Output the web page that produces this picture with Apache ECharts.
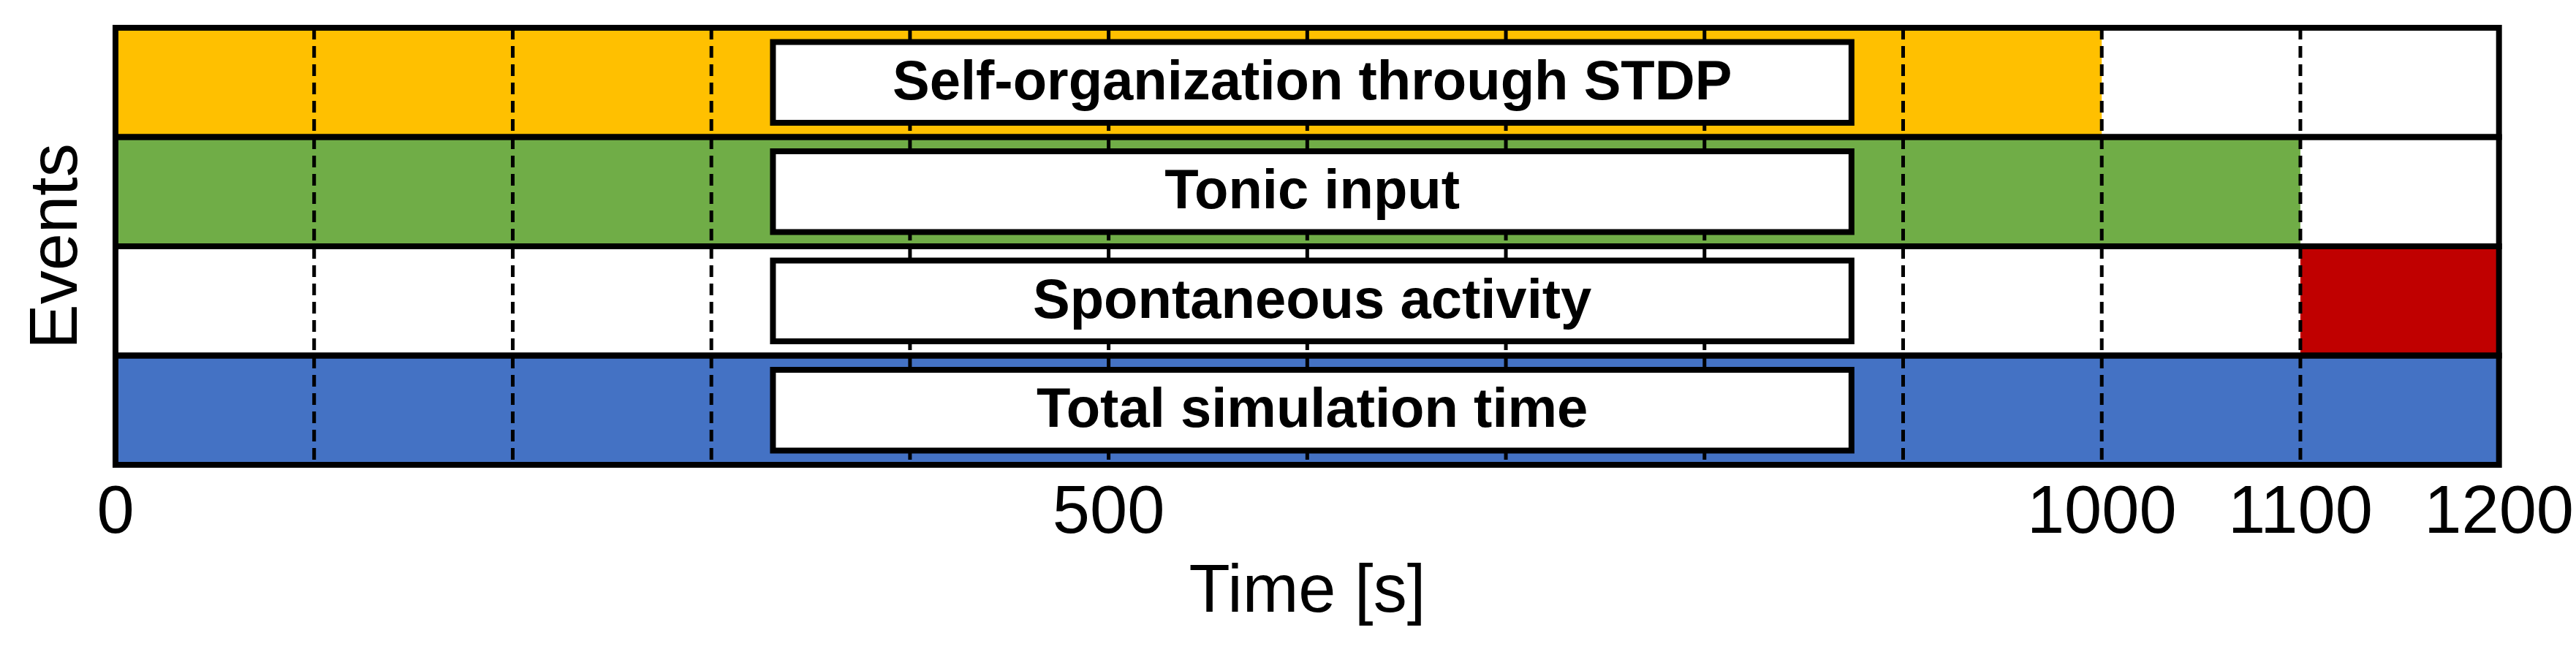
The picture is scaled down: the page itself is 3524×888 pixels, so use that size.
<!DOCTYPE html>
<html>
<head>
<meta charset="utf-8">
<script src="https://cdn.jsdelivr.net/npm/echarts@6/dist/echarts.min.js"></script>
<style>html,body{margin:0;padding:0;background:#fff}#main{width:3524px;height:888px}</style>
</head>
<body>
<div id="main"></div>
<script>
// rows from bottom to top
var rows = ['Total simulation time', 'Spontaneous activity', 'Tonic input', 'Self-organization through STDP'];
// [row, start, end, colour]
var segments = [
	[0, 0, 1200, '#4472C4'],
	[1, 1100, 1200, '#C00000'],
	[2, 0, 1100, '#70AD47'],
	[3, 0, 1000, '#FFC000']
];
var dashTimes = [100, 200, 300, 400, 500, 600, 700, 800, 900, 1000, 1100];
var boxStart = 331, boxEnd = 874;
var tickLabels = [0, 500, 1000, 1100, 1200];

var chart = echarts.init(document.getElementById('main'));

function rowRect(api, row, a, b) {
	var p0 = api.coord([a, row]);
	var p1 = api.coord([b, row]);
	var h = api.size([0, 1])[1];
	return {x: p0[0], y: p0[1] - h / 2, width: p1[0] - p0[0], height: h};
}

chart.setOption({
	animation: false,
	grid: {left: 158, right: 100, top: 38, bottom: 252},
	xAxis: {
		type: 'value', min: 0, max: 1200, interval: 100,
		name: 'Time [s]', nameLocation: 'middle', nameGap: 130,
		nameTextStyle: {fontFamily: 'Liberation Sans', fontSize: 92, color: '#000'},
		axisLine: {show: false}, axisTick: {show: false}, splitLine: {show: false},
		axisLabel: {
			fontFamily: 'Liberation Sans', fontSize: 92, color: '#000', margin: 22,
			formatter: function (v) { return tickLabels.indexOf(v) >= 0 ? String(v) : ''; }
		}
	},
	yAxis: {
		type: 'category', data: rows,
		name: 'Events', nameLocation: 'middle', nameGap: 32, nameRotate: 90,
		nameTextStyle: {fontFamily: 'Liberation Sans', fontSize: 92, color: '#000'},
		axisLine: {show: false}, axisTick: {show: false}, axisLabel: {show: false}, splitLine: {show: false}
	},
	series: [
		{
			type: 'custom', z: 1,
			data: segments,
			renderItem: function (params, api) {
				var s = segments[params.dataIndex];
				return {type: 'rect', shape: rowRect(api, s[0], s[1], s[2]), style: {fill: s[3]}};
			}
		},
		{
			type: 'custom', z: 2,
			data: dashTimes,
			renderItem: function (params, api) {
				var t = dashTimes[params.dataIndex];
				var top = api.coord([t, rows.length - 1]);
				var bot = api.coord([t, 0]);
				var h = api.size([0, 1])[1];
				return {type: 'line', shape: {x1: top[0], y1: top[1] - h / 2, x2: bot[0], y2: bot[1] + h / 2},
					style: {stroke: '#000', lineWidth: 5, lineDash: [16, 9]}};
			}
		},
		{
			type: 'custom', z: 3,
			data: rows,
			renderItem: function (params, api) {
				return {type: 'rect', shape: rowRect(api, params.dataIndex, 0, 1200),
					style: {fill: null, stroke: '#000', lineWidth: 8}};
			}
		},
		{
			type: 'custom', z: 4,
			data: rows,
			renderItem: function (params, api) {
				var r = rowRect(api, params.dataIndex, boxStart, boxEnd);
				var pad = r.height * 0.13;
				return {type: 'group', children: [
					{type: 'rect', shape: {x: r.x, y: r.y + pad, width: r.width, height: r.height - 2 * pad},
						style: {fill: '#fff', stroke: '#000', lineWidth: 8}},
					{type: 'text', style: {text: rows[params.dataIndex], x: r.x + r.width / 2, y: r.y + r.height / 2 + 2,
						align: 'center', verticalAlign: 'middle', fill: '#000',
						font: 'bold 76px "Liberation Sans"'}}
				]};
			}
		}
	]
});
</script>
</body>
</html>
